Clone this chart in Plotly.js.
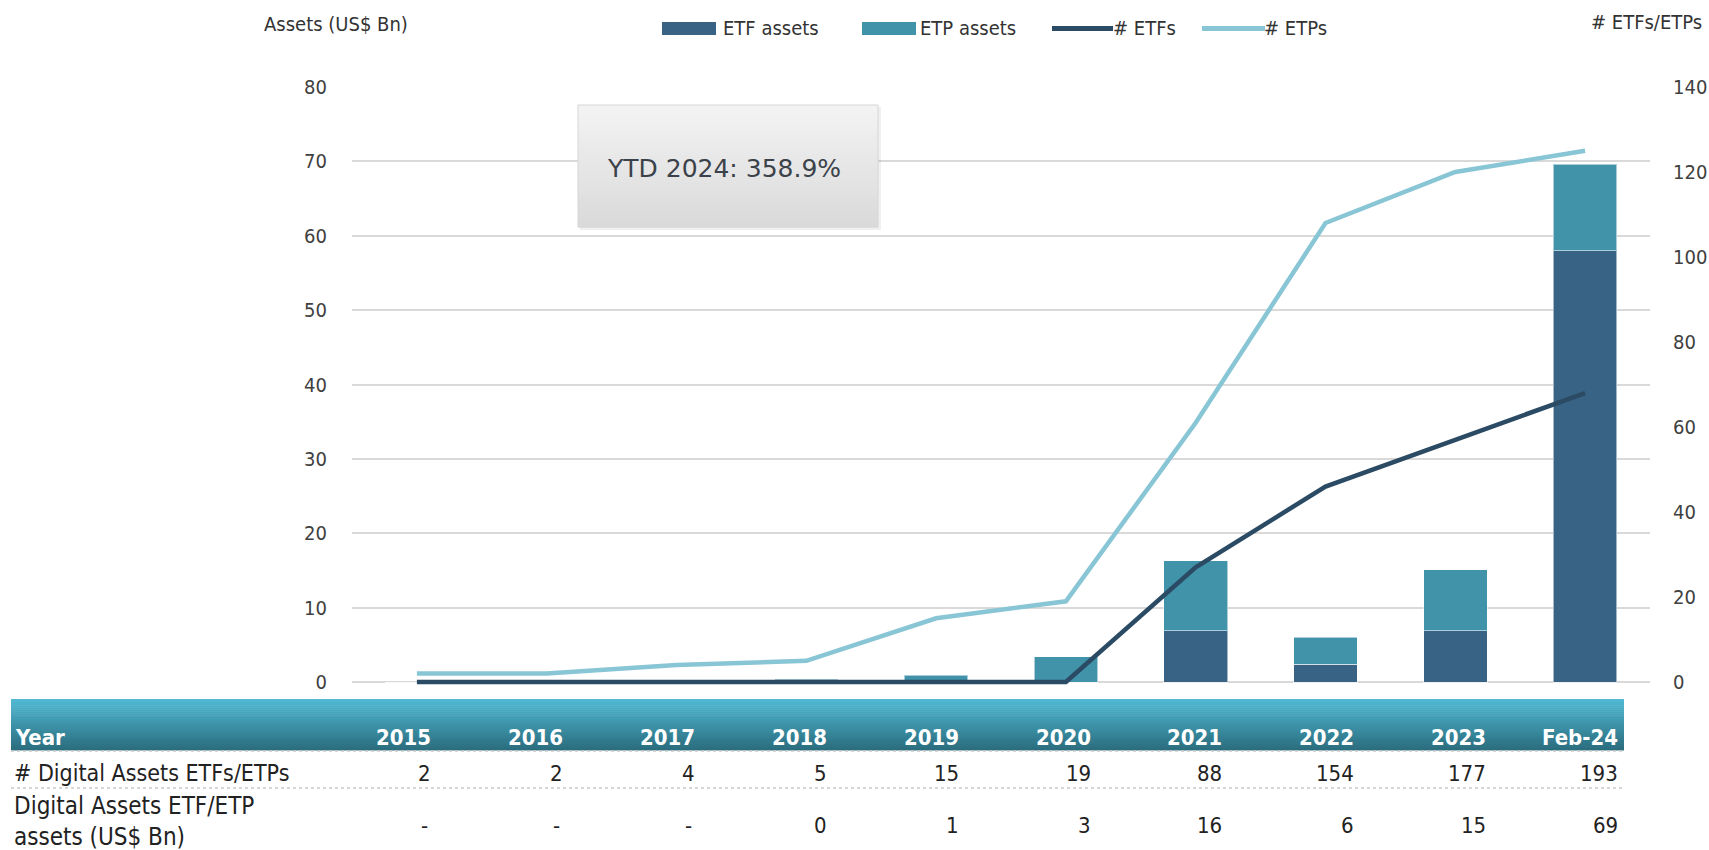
<!DOCTYPE html>
<html>
<head>
<meta charset="utf-8">
<script src="https://cdn.plot.ly/plotly-3.0.1.min.js"></script>
<style>
  html, body { margin: 0; padding: 0; background: #ffffff; }
  #chart { width: 1709px; height: 850px; }
</style>
</head>
<body>
<div id="chart"></div>
<script>
// ---------- data ----------
const categories   = ['2015','2016','2017','2018','2019','2020','2021','2022','2023','Feb-24'];
const etfAssets    = [0, 0, 0, 0, 0, 0, 6.9, 2.4, 6.9, 58.0];      // US$ Bn
const etpAssets    = [0, 0, 0, 0.4, 0.9, 3.4, 9.4, 3.6, 8.2, 11.6]; // US$ Bn
const etfCount     = [0, 0, 0, 0, 0, 0, 27, 46, 57, 68];
const etpCount     = [2, 2, 4, 5, 15, 19, 61, 108, 120, 125];
const tableCounts  = ['2','2','4','5','15','19','88','154','177','193'];
const tableAssets  = ['-','-','-','0','1','3','16','6','15','69'];
const ytdText      = 'YTD 2024: 358.9%';

// ---------- layout helpers (pixel -> paper) ----------
const W = 1709, H = 850;
const Y0PX = 682, Y80PX = 87;               // pixel rows of value 0 and 80 on the left axis
const PAD = 0.005;                          // small range padding below zero so the zero line is not clipped
const PL = 352, PR = 1650, PT = 87;
const PB = Y0PX + PAD * (Y0PX - Y80PX);     // bottom of plot area in px
const px = x => (x - PL) / (PR - PL);
const py = y => (PB - y) / (PB - PT);

const FONT = '"DejaVu Sans Condensed", "DejaVu Sans", "Liberation Sans Narrow", sans-serif';
const TXT = '#333333';

const C_ETF = '#386384';
const C_ETP = '#4193aa';
const C_LETF = '#2b4a64';
const C_LETP = '#88c5d5';

const traces = [
  { type: 'bar', name: 'ETF assets', x: categories, y: etfAssets,
    marker: { color: C_ETF, line: { color: 'rgba(255,255,255,0.55)', width: 1 } },
    hoverinfo: 'x+y+name' },
  { type: 'bar', name: 'ETP assets', x: categories, y: etpAssets,
    marker: { color: C_ETP, line: { color: 'rgba(255,255,255,0.55)', width: 1 } },
    hoverinfo: 'x+y+name' },
  { type: 'scatter', mode: 'lines', name: '# ETFs', x: categories, y: etfCount, yaxis: 'y2',
    line: { color: C_LETF, width: 4.5 } },
  { type: 'scatter', mode: 'lines', name: '# ETPs', x: categories, y: etpCount, yaxis: 'y2',
    line: { color: C_LETP, width: 4.5 } }
];

const shapes = [];
const annotations = [];

// ----- custom legend -----
function legendRect(x0, x1, color) {
  shapes.push({ type: 'rect', xref: 'paper', yref: 'paper', x0: px(x0), x1: px(x1), y0: py(35), y1: py(22),
    fillcolor: color, line: { width: 0 } });
}
function legendLine(x0, x1, color) {
  shapes.push({ type: 'line', xref: 'paper', yref: 'paper', x0: px(x0), x1: px(x1), y0: py(28.5), y1: py(28.5),
    line: { color: color, width: 5 } });
}
function legendText(x, text) {
  annotations.push({ xref: 'paper', yref: 'paper', x: px(x), y: py(28), text: text, showarrow: false,
    xanchor: 'left', yanchor: 'middle', font: { family: FONT, size: 20, color: TXT } });
}
legendRect(662, 716, C_ETF);  legendText(721, traces[0].name);
legendRect(862, 916, C_ETP);  legendText(918, traces[1].name);
legendLine(1052, 1113, C_LETF); legendText(1111, traces[2].name);
legendLine(1202, 1265, C_LETP); legendText(1262, traces[3].name);

// axis titles
annotations.push({ xref: 'paper', yref: 'paper', x: px(262), y: py(24), text: 'Assets (US$ Bn)', showarrow: false,
  xanchor: 'left', yanchor: 'middle', font: { family: FONT, size: 20, color: TXT } });
annotations.push({ xref: 'paper', yref: 'paper', x: px(1704), y: py(22), text: '# ETFs/ETPs', showarrow: false,
  xanchor: 'right', yanchor: 'middle', font: { family: FONT, size: 20, color: TXT } });

// ----- YTD box -----
shapes.push({ type: 'rect', xref: 'paper', yref: 'paper', x0: px(580), x1: px(881), y0: py(230), y1: py(107),
  fillcolor: 'rgba(0,0,0,0.06)', line: { width: 0 } });
const boxTop = 105, boxBot = 227, nb = 24;
for (let i = 0; i < nb; i++) {
  const t = i / (nb - 1);
  const v = Math.round(243 - t * (243 - 218));
  const y0 = boxTop + (boxBot - boxTop) * i / nb;
  const y1 = boxTop + (boxBot - boxTop) * (i + 1) / nb;
  shapes.push({ type: 'rect', xref: 'paper', yref: 'paper', x0: px(578), x1: px(878), y0: py(y1 + 0.5), y1: py(y0),
    fillcolor: `rgb(${v},${v},${v})`, line: { width: 0 } });
}
shapes.push({ type: 'rect', xref: 'paper', yref: 'paper', x0: px(578), x1: px(878), y0: py(boxBot), y1: py(boxTop),
  fillcolor: 'rgba(0,0,0,0)', line: { color: '#d6d6d6', width: 1 } });
annotations.push({ xref: 'paper', yref: 'paper', x: px(724), y: py(168), text: ytdText, showarrow: false,
  xanchor: 'center', yanchor: 'middle', font: { family: '"DejaVu Sans", sans-serif', size: 25, color: '#3b4249' } });

// ----- table under the chart -----
const TL = 11, TR = 1624, HT = 699, HB = 750;
const nh = 25;
const cTop = [80, 184, 210], cBot = [43, 110, 128];
for (let i = 0; i < nh; i++) {
  const t = i / (nh - 1);
  const c = cTop.map((a, k) => Math.round(a + (cBot[k] - a) * t));
  const y0 = HT + (HB - HT) * i / nh;
  const y1 = HT + (HB - HT) * (i + 1) / nh;
  shapes.push({ type: 'rect', xref: 'paper', yref: 'paper', x0: px(TL), x1: px(TR), y0: py(y1 + 0.5), y1: py(y0),
    fillcolor: `rgb(${c[0]},${c[1]},${c[2]})`, line: { width: 0 } });
}
[751, 788].forEach(y => shapes.push({ type: 'line', xref: 'paper', yref: 'paper', x0: px(TL), x1: px(TR),
  y0: py(y), y1: py(y), line: { color: '#c9c9c9', width: 1.5, dash: 'dot' } }));

const colRight = i => 433 + i * 131.9;
annotations.push({ xref: 'paper', yref: 'paper', x: px(13), y: py(737), text: '<b>Year</b>', showarrow: false,
  xanchor: 'left', yanchor: 'middle', font: { family: FONT, size: 22, color: '#ffffff' } });
annotations.push({ xref: 'paper', yref: 'paper', x: px(12), y: py(773), text: '# Digital Assets ETFs/ETPs', showarrow: false,
  xanchor: 'left', yanchor: 'middle', font: { family: FONT, size: 23, color: '#222222' } });
annotations.push({ xref: 'paper', yref: 'paper', x: px(12), y: py(821), text: 'Digital Assets ETF/ETP<br>assets (US$ Bn)', showarrow: false,
  xanchor: 'left', yanchor: 'middle', align: 'left', font: { family: FONT, size: 24, color: '#222222' } });
categories.forEach((c, i) => {
  annotations.push({ xref: 'paper', yref: 'paper', x: px(colRight(i)), y: py(737), text: '<b>' + c + '</b>', showarrow: false,
    xanchor: 'right', yanchor: 'middle', font: { family: FONT, size: 22, color: '#ffffff' } });
  annotations.push({ xref: 'paper', yref: 'paper', x: px(colRight(i)), y: py(773), text: tableCounts[i], showarrow: false,
    xanchor: 'right', yanchor: 'middle', font: { family: FONT, size: 22, color: '#222222' } });
  annotations.push({ xref: 'paper', yref: 'paper', x: px(colRight(i) - (tableAssets[i] === '-' ? 3 : 0)), y: py(825), text: tableAssets[i], showarrow: false,
    xanchor: 'right', yanchor: 'middle', font: { family: FONT, size: 22, color: '#222222' } });
});

const layout = {
  width: W, height: H,
  paper_bgcolor: '#ffffff', plot_bgcolor: '#ffffff',
  margin: { l: PL, r: W - PR, t: PT, b: H - PB, autoexpand: false },
  showlegend: false,
  barmode: 'stack',
  bargap: 0.51,
  font: { family: FONT, size: 20, color: '#404040' },
  xaxis: { type: 'category', showticklabels: false, showgrid: false, zeroline: false, showline: false, ticks: '' },
  yaxis: { range: [-80 * PAD, 80], tickvals: [0, 10, 20, 30, 40, 50, 60, 70, 80], showgrid: true, gridcolor: '#d9d9d9', gridwidth: 2,
           zeroline: false, showline: false, ticks: '', ticklabelstandoff: 24,
           tickfont: { family: FONT, size: 20, color: '#404040' } },
  yaxis2: { overlaying: 'y', side: 'right', range: [-140 * PAD, 140], tickvals: [0, 20, 40, 60, 80, 100, 120, 140], showgrid: false,
            zeroline: false, showline: false, ticks: '', ticklabelstandoff: 22,
            tickfont: { family: FONT, size: 20, color: '#404040' } },
  shapes: shapes,
  annotations: annotations
};

Plotly.newPlot('chart', traces, layout, { displayModeBar: false, staticPlot: true });
</script>
</body>
</html>
